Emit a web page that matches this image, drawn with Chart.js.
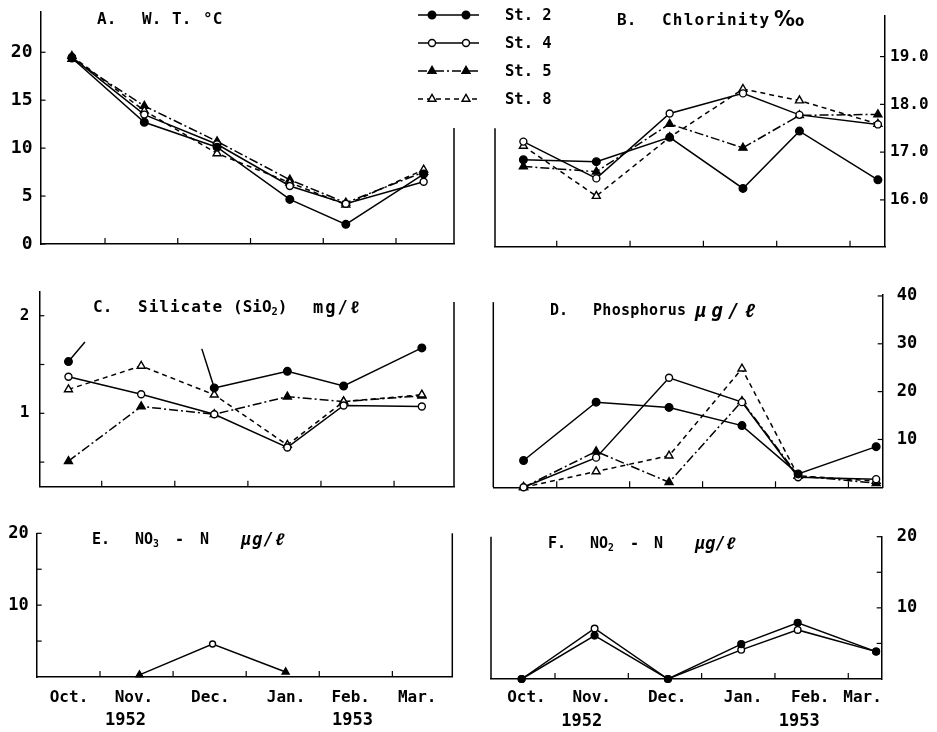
<!DOCTYPE html>
<html>
<head>
<meta charset="utf-8">
<script src="https://cdn.jsdelivr.net/npm/chart.js@4/dist/chart.umd.min.js"></script>
<style>
  html, body { margin: 0; padding: 0; background: #fff; }
  #wrap { position: relative; width: 937px; height: 732px; overflow: hidden; background: #fff; }
  #wrap canvas { position: absolute; left: 0; top: 0; }
  .ttl { position: absolute; font-family: 'DejaVu Sans Mono', 'Liberation Mono', monospace;
         font-weight: bold; color: #000; white-space: pre; line-height: 1; }
  .ttl sub { font-size: 0.65em; vertical-align: -0.3em; line-height: 0; }
</style>
</head>
<body>
<div id="wrap">
  <canvas id="pA" width="937" height="732"></canvas>
  <canvas id="pB" width="937" height="732"></canvas>
  <canvas id="pC" width="937" height="732"></canvas>
  <canvas id="pD" width="937" height="732"></canvas>
  <canvas id="pE" width="937" height="732"></canvas>
  <canvas id="pF" width="937" height="732"></canvas>
</div>
<script>
// ---- data -------------------------------------------------------------
const months = ['Oct.', 'Nov.', 'Dec.', 'Jan.', 'Feb.', 'Mar.'];
const years = ['1952', '1953'];
const stations = ['St. 2', 'St. 4', 'St. 5', 'St. 8'];
// sampling dates, in months counted from 1 Oct 1952
const samplePos = [0.545, 1.54, 2.54, 3.54, 4.31, 5.38];

// A. water temperature (°C)
const tempSt2 = [19.4, 12.7, 10.1, 4.65, 2.05, 7.3];
const tempSt4 = [19.5, 13.5, 10.4, 6.05, 4.2, 6.5];
const tempSt5 = [19.3, 14.4, 10.7, 6.7, 4.3, 7.5];
const tempSt8 = [19.6, 13.9, 9.45, 6.4, 4.1, 7.75];
const tempTicks = [0, 5, 10, 15, 20];

// B. chlorinity (‰)
const chlSt2 = [16.84, 16.80, 17.31, 16.24, 17.44, 16.42];
const chlSt4 = [17.22, 16.45, 17.81, 18.23, 17.78, 17.58];
const chlSt5 = [16.70, 16.59, 17.59, 17.09, 17.77, 17.79];
const chlSt8 = [17.13, 16.08, 17.31, 18.32, 18.08, 17.59];
const chlTicks = [16, 17, 18, 19];

// C. silicate (mg/l); St. 2 in November is off the scale
const silSt2 = [1.53, null, 1.26, 1.43, 1.28, 1.67];
const silSt4 = [1.375, 1.195, 0.99, 0.65, 1.08, 1.07];
const silSt5 = [0.51, 1.07, 0.99, 1.17, 1.12, 1.18];
const silSt8 = [1.245, 1.485, 1.19, 0.675, 1.12, 1.19];
// broken leads toward the off-scale November value of St. 2
const silSt2Breaks = [
  { x: 0.545, y: 1.53 }, { x: 0.77, y: 1.73 }, { x: 1.54, y: null },
  { x: 2.37, y: 1.66 }, { x: 2.54, y: 1.26 }
];
const silTicks = [0.5, 1, 1.5, 2];

// D. phosphorus (µg/l)
const phoSt2 = [5.6, 17.8, 16.7, 12.9, 2.8, 8.5];
const phoSt4 = [0, 6.2, 22.9, 17.8, 2.1, 1.7];
const phoSt5 = [0, 7.5, 1.05, 18.0, 2.4, 0.85];
const phoSt8 = [0, 3.3, 6.6, 24.8, 2.4, 1.3];
const phoTicks = [10, 20, 30, 40];

// E. nitrate NO3-N (µg/l)
const no3St4 = [null, 0.3, 4.6, 0.7, null, null];
const no3St5 = [null, 0.3, null, 0.7, null, null];

// F. nitrite NO2-N (µg/l)
const no2St2 = [0, 6.1, 0, 4.9, 7.9, 3.85];
const no2St4 = [0, 7.1, 0, 4.1, 6.9, 3.85];
const nTicks = [5, 10, 15, 20];

const monthBounds = [1, 2, 3, 4, 5];

// ---- styling ------------------------------------------------------------
const MONO = "'DejaVu Sans Mono', 'Liberation Mono', monospace";
Chart.defaults.font.family = MONO;
Chart.defaults.color = '#000';

const STATION_STYLE = {
  'St. 2': { borderDash: [], pointStyle: 'circle', pointBackgroundColor: '#000', pointRadius: 3.8, order: 0 },
  'St. 4': { borderDash: [], pointStyle: 'circle', pointBackgroundColor: '#fff', pointRadius: 3.5, order: 1 },
  'St. 5': { borderDash: [9, 3, 2, 3], pointStyle: 'triangle', pointBackgroundColor: '#000', pointRadius: 4.6, order: 3 },
  'St. 8': { borderDash: [5, 4], pointStyle: 'triangle', pointBackgroundColor: '#fff', pointRadius: 4.6, order: 2 }
};

const toPoints = vals => vals.map((v, i) => ({ x: samplePos[i], y: v }));

function series(station, vals, extra) {
  return Object.assign({
    label: station,
    data: toPoints(vals),
    borderColor: '#000',
    borderWidth: 1.5,
    pointBorderColor: '#000',
    pointBorderWidth: 1.4,
    fill: false,
    tension: 0,
    spanGaps: false,
    clip: false
  }, STATION_STYLE[station], extra || {});
}

function drawMarker(ctx, ds, x, y) {
  ctx.save();
  ctx.lineWidth = ds.pointBorderWidth;
  ctx.strokeStyle = ds.pointBorderColor;
  ctx.fillStyle = ds.pointBackgroundColor;
  ctx.setLineDash([]);
  const r = ds.pointRadius;
  ctx.beginPath();
  if (ds.pointStyle === 'triangle') {
    let a = 0;
    ctx.moveTo(x + Math.sin(a) * r, y - Math.cos(a) * r);
    a += 2 * Math.PI / 3; ctx.lineTo(x + Math.sin(a) * r, y - Math.cos(a) * r);
    a += 2 * Math.PI / 3; ctx.lineTo(x + Math.sin(a) * r, y - Math.cos(a) * r);
    ctx.closePath();
  } else {
    ctx.arc(x, y, r, 0, Math.PI * 2);
  }
  ctx.fill();
  ctx.stroke();
  ctx.restore();
}

// frame lines on the side opposite the value axis, plus inward tick marks
const framePlugin = {
  id: 'panelFrame',
  beforeDatasetsDraw(chart, args, o) {
    const { ctx, chartArea: a, scales } = chart;
    const ys = scales.y, xs = scales.x;
    const seg = (x1, y1, x2, y2) => { ctx.beginPath(); ctx.moveTo(x1, y1); ctx.lineTo(x2, y2); ctx.stroke(); };
    ctx.save();
    ctx.strokeStyle = '#000';
    ctx.lineWidth = 1.5;
    const leftAxis = o.side === 'left';
    const oppX = leftAxis ? a.right : a.left;
    const topY = o.oppositeTop == null ? a.top : ys.getPixelForValue(o.oppositeTop);
    seg(oppX, topY, oppX, a.bottom);
    const axX = leftAxis ? a.left : a.right;
    const dir = leftAxis ? 1 : -1;
    ctx.lineWidth = 1.2;
    ys.ticks.forEach(t => {
      const y = ys.getPixelForValue(t.value);
      seg(axX, y, axX + dir * 5, y);
    });
    monthBounds.forEach(v => {
      const x = xs.getPixelForValue(v);
      seg(x, a.bottom, x, a.bottom - 6);
    });
    ctx.restore();
  }
};

// station key drawn from the dataset styles of the temperature panel
const keyPlugin = {
  id: 'stationKey',
  afterDraw(chart, args, o) {
    if (!o || !o.rows) return;
    const ctx = chart.ctx;
    chart.data.datasets.forEach((ds, i) => {
      const y = o.rows[i];
      ctx.save();
      ctx.strokeStyle = '#000';
      ctx.lineWidth = ds.borderWidth;
      ctx.setLineDash(ds.borderDash || []);
      ctx.beginPath(); ctx.moveTo(o.x1, y); ctx.lineTo(o.x2, y); ctx.stroke();
      ctx.restore();
      drawMarker(ctx, ds, o.m1, y);
      drawMarker(ctx, ds, o.m2, y);
      ctx.save();
      ctx.fillStyle = '#000';
      ctx.font = 'bold 15.5px ' + MONO;
      ctx.textBaseline = 'middle';
      ctx.fillText(ds.label, o.textX, y + 1);
      ctx.restore();
    });
  }
};

const W = 937, H = 732;
const MONTH_H = 30, YEAR_H = 22;
const NO_GRID = { display: false, drawTicks: false };

function panel(id, o) {
  const right = o.side === 'right';
  const xH = o.monthPos ? MONTH_H + YEAR_H : 0;
  const yW = right ? W - o.box.right : o.box.left;
  const scales = {
    x: {
      type: 'linear', position: 'bottom', weight: 0,
      min: o.x[0], max: o.x[1],
      grid: NO_GRID,
      border: { display: true, color: '#000', width: 1.5 },
      ticks: o.monthPos
        ? { autoSkip: false, maxRotation: 0, minRotation: 0, padding: o.monthPad,
            color: '#000', font: { size: 16, weight: 'bold' }, callback: (v, i) => months[i] }
        : { display: false },
      afterBuildTicks: s => {
        if (o.monthPos) s.ticks = o.monthPos.map(v => ({ value: v }));
        s.min = o.x[0]; s.max = o.x[1];
      },
      afterFit: s => { s.height = o.monthPos ? MONTH_H : 0; s.paddingLeft = 0; s.paddingRight = 0; }
    },
    y: {
      type: 'linear', position: o.side,
      min: o.y[0], max: o.y[1],
      grid: NO_GRID,
      border: { display: true, color: '#000', width: 1.5 },
      ticks: { autoSkip: false, padding: o.yPad, color: '#000',
               font: { size: o.yFont, weight: 'bold' }, callback: o.yLabel },
      afterBuildTicks: s => {
        s.ticks = o.yTicks.map(v => ({ value: v }));
        s.min = o.y[0]; s.max = o.y[1];
      },
      afterFit: s => { s.width = yW; s.paddingTop = 0; s.paddingBottom = 0; }
    }
  };
  if (o.yearPos) {
    scales.xYear = {
      type: 'linear', position: 'bottom', weight: 1,
      min: o.x[0], max: o.x[1],
      grid: NO_GRID,
      border: { display: false },
      ticks: { autoSkip: false, maxRotation: 0, minRotation: 0, padding: o.yearPad,
               color: '#000', font: { size: 17, weight: 'bold' }, callback: (v, i) => years[i] },
      afterBuildTicks: s => {
        s.ticks = o.yearPos.map(v => ({ value: v }));
        s.min = o.x[0]; s.max = o.x[1];
      },
      afterFit: s => { s.height = YEAR_H; s.paddingLeft = 0; s.paddingRight = 0; }
    };
  }
  return new Chart(document.getElementById(id), {
    type: 'line',
    data: { datasets: o.datasets },
    options: {
      responsive: false,
      animation: false,
      devicePixelRatio: 1,
      events: [],
      layout: {
        padding: {
          left: right ? o.box.left : 0,
          right: right ? 0 : W - o.box.right,
          top: o.box.top,
          bottom: H - o.box.bottom - xH
        }
      },
      scales,
      plugins: {
        legend: { display: false },
        tooltip: { enabled: false },
        title: { display: false },
        panelFrame: { side: o.side, oppositeTop: o.oppositeTop },
        stationKey: o.key || {}
      }
    },
    plugins: [framePlugin, keyPlugin]
  });
}

const plain = v => String(v);

// A. water temperature
panel('pA', {
  box: { left: 40.5, right: 454, top: 12, bottom: 244 },
  x: [0.113, 5.797], y: [0, 24.2], side: 'left', oppositeTop: 12.1,
  yTicks: tempTicks, yLabel: plain, yFont: 18, yPad: 8,
  datasets: [
    series('St. 2', tempSt2), series('St. 4', tempSt4),
    series('St. 5', tempSt5), series('St. 8', tempSt8)
  ],
  key: { rows: [15, 43, 71, 99], x1: 418, x2: 479, m1: 432, m2: 466, textX: 505 }
});

// B. chlorinity
panel('pB', {
  box: { left: 495, right: 885, top: 16, bottom: 246.7 },
  x: [0.158, 5.477], y: [15.02, 19.85], side: 'right', oppositeTop: 17.5,
  yTicks: chlTicks, yLabel: v => v.toFixed(1), yFont: 16, yPad: 5,
  datasets: [
    series('St. 2', chlSt2), series('St. 4', chlSt4),
    series('St. 5', chlSt5), series('St. 8', chlSt8)
  ]
});

// C. silicate
panel('pC', {
  box: { left: 39.3, right: 454, top: 291.7, bottom: 486.7 },
  x: [0.146, 5.82], y: [0.248, 2.246], side: 'left', oppositeTop: 2.14,
  yTicks: silTicks, yLabel: v => (v === 1 || v === 2) ? String(v) : '', yFont: 16, yPad: 10,
  datasets: [
    series('St. 2', silSt2),
    series('St. 2', [], { label: 'St. 2 off-scale', data: silSt2Breaks, pointRadius: 0 }),
    series('St. 4', silSt4), series('St. 5', silSt5), series('St. 8', silSt8)
  ]
});

// D. phosphorus
panel('pD', {
  box: { left: 493.3, right: 882.7, top: 295, bottom: 487.3 },
  x: [0.13, 5.47], y: [0, 40.2], side: 'right', oppositeTop: 38.7,
  yTicks: phoTicks, yLabel: plain, yFont: 17, yPad: 14,
  datasets: [
    series('St. 2', phoSt2), series('St. 4', phoSt4),
    series('St. 5', phoSt5), series('St. 8', phoSt8)
  ]
});

// E. nitrate
panel('pE', {
  box: { left: 36.7, right: 452.3, top: 533.3, bottom: 677 },
  x: [0.134, 5.82], y: [0, 20], side: 'left', oppositeTop: null,
  yTicks: nTicks, yLabel: v => (v % 10 === 0) ? String(v) : '', yFont: 17, yPad: 8,
  monthPos: [0.576, 1.465, 2.51, 3.545, 4.43, 5.34], monthPad: 11,
  yearPos: [1.35, 4.455], yearPad: 3,
  datasets: [
    series('St. 4', no3St4, { pointRadius: [0, 0, 3, 0, 0, 0] }),
    series('St. 5', no3St5, { showLine: false, pointRadius: 4 })
  ]
});

// F. nitrite
panel('pF', {
  box: { left: 491, right: 881.7, top: 536.7, bottom: 679 },
  x: [0.127, 5.456], y: [0, 20], side: 'right', oppositeTop: null,
  yTicks: nTicks, yLabel: v => (v % 10 === 0) ? String(v) : '', yFont: 17, yPad: 15,
  monthPos: [0.61, 1.50, 2.53, 3.565, 4.48, 5.195], monthPad: 9,
  yearPos: [1.364, 4.33], yearPad: 2,
  datasets: [
    series('St. 2', no2St2, { pointRadius: 3.4 }),
    series('St. 4', no2St4, { pointRadius: 3.3 })
  ]
});

// ---- panel titles -------------------------------------------------------
const SANS = "'DejaVu Sans', sans-serif";
const titles = [
  { y: 18.7, size: 16, parts: [['A.', 97], ['W.', 142], ['T.', 172], ['°C', 203]] },
  { y: 19.5, size: 16, parts: [['B.', 617], ['Chlorinity', 662, 1.2], ['‰', 774, 0, 21, SANS]] },
  { y: 306.7, size: 16, parts: [['C.', 93], ['Silicate', 138, 1], ['(SiO<sub>2</sub>)', 233], ['mg/ℓ', 313, 2, 17]] },
  { y: 310, size: 15, parts: [['D.', 550], ['Phosphorus', 593, 0.3], ['<i>μg/ℓ</i>', 695, 5, 19]] },
  { y: 539, size: 15, parts: [['E.', 92], ['NO<sub>3</sub>', 135], ['-', 175], ['N', 200], ['<i>μg/ℓ</i>', 241, 1, 17]] },
  { y: 543, size: 15, parts: [['F.', 548], ['NO<sub>2</sub>', 590], ['-', 630], ['N', 654], ['<i>μg/ℓ</i>', 695, 0, 17]] }
];
const wrap = document.getElementById('wrap');
titles.forEach(t => {
  t.parts.forEach(([html, x, spacing, size, family]) => {
    const fs = size || t.size;
    const d = document.createElement('div');
    d.className = 'ttl';
    d.style.left = x + 'px';
    d.style.top = (t.y - 0.48 * fs) + 'px';
    d.style.fontSize = fs + 'px';
    if (spacing) d.style.letterSpacing = spacing + 'px';
    if (family) d.style.fontFamily = family;
    d.innerHTML = html;
    wrap.appendChild(d);
  });
});
</script>
</body>
</html>
